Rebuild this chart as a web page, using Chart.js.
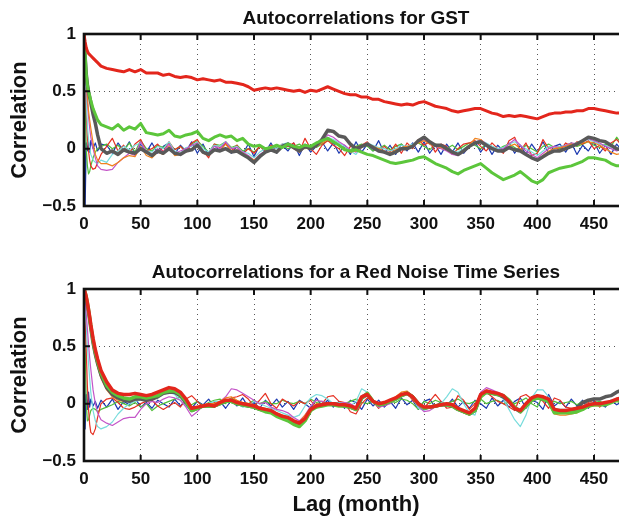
<!DOCTYPE html>
<html>
<head>
<meta charset="utf-8">
<script src="https://cdn.jsdelivr.net/npm/chart.js@4.4.1/dist/chart.umd.min.js"></script>
<style>
html,body{margin:0;padding:0;background:#fff;overflow:hidden;width:619px;height:518px;}
canvas{position:absolute;left:0;}
#c1{top:0;}
#c2{top:250px;}
</style>
</head>
<body>
<canvas id="c1" width="640" height="250"></canvas>
<canvas id="c2" width="640" height="268"></canvas>
<script>
// ---------- DATA ----------
const TITLE_TOP = 'Autocorrelations for GST';
const TITLE_BOTTOM = 'Autocorrelations for a Red Noise Time Series';
const Y_LABEL = 'Correlation';
const X_LABEL = 'Lag (month)';
const Y_TICKS = [-0.5, 0, 0.5, 1];
const X_TICKS = [0, 50, 100, 150, 200, 250, 300, 350, 400, 450];

const LAGS = [0,1,2,3,4,5,6,8,10,12,15,
 20,25,30,35,40,45,50,55,60,65,
 70,75,80,85,90,95,100,105,110,115,
 120,125,130,135,140,145,150,155,160,165,
 170,175,180,185,190,195,200,205,210,215,
 220,225,230,235,240,245,250,255,260,265,
 270,275,280,285,290,295,300,305,310,315,
 320,325,330,335,340,345,350,355,360,365,
 370,375,380,385,390,395,400,405,410,415,
 420,425,430,435,440,445,450,455,460,465,
 470,475];

// ----- GST panel -----
const gstRed = [1.0,0.93,0.88,0.85,0.83,0.82,0.81,0.79,0.77,0.75,0.72,
 0.70,0.69,0.68,0.67,0.69,0.67,0.69,0.66,0.66,0.66,
 0.64,0.65,0.63,0.62,0.63,0.62,0.60,0.61,0.60,0.59,
 0.60,0.58,0.58,0.57,0.56,0.54,0.51,0.52,0.53,0.52,
 0.53,0.52,0.51,0.50,0.51,0.49,0.51,0.50,0.52,0.54,
 0.52,0.50,0.48,0.47,0.47,0.45,0.45,0.43,0.43,0.41,
 0.40,0.39,0.38,0.39,0.38,0.40,0.41,0.39,0.37,0.36,
 0.35,0.33,0.32,0.33,0.34,0.35,0.35,0.33,0.31,0.30,
 0.28,0.29,0.28,0.29,0.28,0.27,0.26,0.28,0.30,0.31,
 0.31,0.32,0.32,0.33,0.33,0.35,0.35,0.34,0.33,0.32,
 0.31,0.31];
const gstGreen = [1.0,0.82,0.65,0.55,0.50,0.46,0.42,0.35,0.30,0.25,0.21,
 0.19,0.17,0.21,0.16,0.19,0.17,0.22,0.14,0.13,0.12,
 0.13,0.16,0.11,0.10,0.12,0.13,0.15,0.09,0.07,0.10,
 0.12,0.10,0.11,0.07,0.09,0.04,0.02,0.03,0.00,0.01,
 0.03,0.01,0.04,0.02,0.01,0.03,0.02,0.05,0.07,0.09,
 0.06,0.03,-0.01,-0.02,-0.01,-0.03,-0.05,-0.06,-0.08,-0.10,
 -0.12,-0.13,-0.12,-0.11,-0.10,-0.08,-0.07,-0.10,-0.13,-0.15,
 -0.17,-0.20,-0.22,-0.19,-0.17,-0.15,-0.13,-0.17,-0.21,-0.24,
 -0.27,-0.25,-0.23,-0.20,-0.24,-0.28,-0.30,-0.27,-0.21,-0.19,
 -0.17,-0.16,-0.15,-0.13,-0.11,-0.08,-0.08,-0.09,-0.10,-0.13,
 -0.15,-0.15];
const gstGray = [1.0,0.80,0.65,0.56,0.50,0.45,0.40,0.30,0.22,0.12,0.00,
 -0.04,-0.02,-0.05,-0.01,-0.03,-0.04,0.00,-0.03,-0.06,-0.02,
 -0.04,0.00,-0.04,-0.05,-0.02,-0.01,0.03,-0.03,-0.05,-0.01,
 -0.02,0.00,-0.03,-0.02,-0.05,-0.08,-0.12,-0.07,-0.03,-0.01,
 -0.03,0.02,0.04,0.01,-0.02,0.02,0.00,0.03,0.08,0.16,
 0.15,0.11,0.10,0.04,0.00,0.02,0.04,0.01,-0.02,-0.03,
 -0.05,-0.03,0.00,0.00,0.02,0.07,0.10,0.06,0.03,0.03,
 0.00,-0.03,-0.05,-0.02,0.02,0.05,0.06,0.03,0.00,-0.02,
 -0.02,0.01,-0.01,-0.02,-0.05,-0.08,-0.10,-0.07,-0.04,-0.02,
 -0.02,0.00,0.02,0.04,0.07,0.10,0.09,0.07,0.06,0.03,
 0.00,-0.01];
const gstBlue = [1.0,-0.5,0.05,-0.02,0.06,-0.03,0.07,0.00,0.05,-0.02,0.04,
 0.03,-0.04,0.05,-0.02,0.06,-0.05,0.04,-0.03,0.05,-0.04,
 0.02,0.05,-0.05,0.03,-0.02,0.06,-0.04,0.04,-0.06,0.03,
 -0.02,0.05,-0.04,0.02,-0.05,0.04,-0.07,0.03,-0.03,0.05,
 -0.04,0.03,-0.02,0.05,-0.06,0.04,-0.03,0.02,0.06,-0.02,
 0.05,-0.04,0.03,-0.05,0.06,-0.03,0.04,-0.02,0.07,-0.04,
 0.03,-0.05,0.04,-0.02,0.05,-0.03,0.06,-0.04,0.03,-0.05,
 0.04,-0.03,0.05,-0.04,0.02,0.06,-0.03,0.04,-0.05,0.03,
 -0.02,0.05,-0.04,0.03,-0.05,0.04,-0.03,0.06,-0.04,0.02,
 0.04,-0.03,0.05,-0.05,0.03,-0.02,0.06,-0.04,0.03,-0.05,
 0.04,-0.02];
const gstCyan = [1.0,0.70,0.40,0.20,0.08,0.00,-0.05,-0.10,-0.12,-0.13,-0.10,
 -0.12,-0.05,-0.02,0.02,-0.01,0.03,0.05,-0.02,-0.03,0.02,
 0.00,0.06,-0.02,-0.04,0.01,0.02,0.06,0.00,-0.03,0.03,
 0.02,0.06,0.00,0.02,-0.03,-0.04,-0.08,-0.03,0.00,0.02,
 0.00,0.04,0.05,0.02,-0.01,0.03,0.00,0.02,0.06,0.10,
 0.08,0.05,0.02,-0.02,-0.05,0.02,0.05,0.03,0.01,0.00,
 -0.02,0.00,0.03,0.02,0.04,0.06,0.08,0.05,0.03,0.02,
 0.01,-0.02,-0.03,0.00,0.03,0.06,0.07,0.05,0.02,0.00,
 0.01,0.04,0.06,0.03,0.00,-0.03,-0.06,-0.02,0.02,0.01,
 0.02,0.03,0.04,0.05,0.07,0.08,0.06,0.04,0.03,0.01,
 0.00,0.02];
const gstMagenta = [1.0,0.75,0.55,0.40,0.28,0.18,0.10,0.00,-0.08,-0.15,-0.18,
 -0.19,-0.18,-0.12,-0.08,-0.04,-0.06,0.06,-0.03,-0.05,0.00,
 -0.03,0.04,-0.04,-0.02,0.00,0.03,0.05,-0.03,-0.04,0.02,
 0.00,0.06,0.00,0.01,-0.03,-0.06,-0.10,-0.05,-0.02,0.00,
 -0.02,0.03,0.04,0.01,-0.03,0.02,0.00,0.03,0.06,0.12,
 0.10,0.06,0.03,-0.01,-0.03,0.01,0.04,0.02,-0.01,-0.02,
 -0.04,-0.02,0.00,0.01,0.03,0.06,0.08,0.04,0.02,0.00,
 -0.02,-0.05,-0.06,-0.03,0.02,0.05,0.08,0.04,0.01,-0.01,
 0.00,0.04,0.08,0.03,-0.02,-0.05,-0.08,-0.04,0.00,0.02,
 0.01,0.03,0.05,0.04,0.06,0.09,0.07,0.05,0.02,0.00,
 -0.02,0.00];
const gstOrange = [1.0,0.80,0.60,0.45,0.33,0.25,0.18,0.05,-0.05,-0.10,-0.13,
 -0.13,-0.15,-0.12,-0.08,-0.06,-0.07,0.02,-0.06,-0.08,-0.03,
 -0.05,0.02,-0.06,-0.05,-0.02,0.00,0.03,-0.04,-0.06,-0.01,
 -0.02,0.04,-0.02,-0.01,-0.04,-0.07,-0.10,-0.06,-0.03,0.00,
 -0.02,0.02,0.03,0.00,-0.03,0.01,-0.01,0.02,0.05,0.08,
 0.06,0.03,0.00,-0.03,-0.02,0.01,0.04,0.02,0.00,-0.02,
 -0.04,-0.01,0.01,0.02,0.03,0.05,0.07,0.04,0.02,0.01,
 -0.01,-0.04,-0.05,-0.01,0.03,0.09,0.08,0.03,0.00,-0.02,
 -0.02,0.02,0.04,0.00,-0.05,-0.08,-0.10,-0.06,-0.02,0.00,
 0.01,0.02,0.04,0.03,0.05,0.06,0.05,0.03,0.00,-0.03,
 -0.05,-0.04];
const gstRedThin = [1.0,0.60,0.30,0.10,-0.02,-0.10,-0.15,-0.18,-0.17,-0.12,-0.05,
 0.02,0.09,-0.02,0.03,-0.04,0.04,0.08,-0.02,0.00,0.04,
 -0.03,0.06,-0.01,0.02,-0.03,0.05,0.08,-0.02,-0.08,0.04,
 0.01,0.05,-0.02,0.03,-0.05,0.00,-0.04,0.02,-0.02,0.03,
 0.00,0.04,0.02,0.05,-0.03,0.09,0.00,-0.05,0.03,0.07,
 0.03,0.00,-0.06,0.02,0.01,0.03,0.06,0.00,-0.02,0.02,
 -0.03,0.04,-0.04,0.05,0.00,0.08,0.03,0.06,-0.03,0.04,
 0.02,-0.05,0.00,0.04,0.05,0.07,0.02,-0.02,0.05,0.00,
 -0.04,0.07,0.10,-0.02,0.05,-0.06,-0.04,0.08,0.00,0.02,
 -0.02,0.05,0.02,0.06,0.04,0.07,0.00,0.03,-0.02,0.05,
 0.08,0.02];
const gstGreenThin = [1.0,0.40,0.00,-0.15,-0.22,-0.20,-0.15,-0.08,-0.03,0.00,0.02,
 0.04,0.00,0.03,-0.02,0.05,-0.03,0.07,0.00,-0.02,0.03,
 0.01,0.05,-0.01,0.02,-0.02,0.04,0.07,0.02,-0.03,0.04,
 0.03,0.06,0.01,0.03,-0.02,0.00,-0.03,0.02,0.00,0.02,
 0.01,0.03,0.00,0.02,0.04,0.00,0.03,0.01,0.04,0.07,
 0.05,0.03,0.01,-0.01,0.02,0.04,0.02,-0.02,0.00,0.03,
 -0.01,0.02,0.04,0.00,0.03,0.05,0.02,-0.01,0.04,0.02,
 0.00,0.03,-0.01,0.02,0.05,0.03,0.00,0.04,0.02,-0.01,
 0.02,0.04,0.01,-0.02,0.03,0.00,-0.03,0.02,0.04,0.01,
 0.00,0.03,0.05,0.02,0.04,0.06,0.03,0.01,0.04,0.02,
 0.10,0.03];

// ----- Red noise panel -----
const rnRed = [1.0,0.97,0.93,0.88,0.82,0.76,0.69,0.57,0.47,0.39,0.29,
 0.19,0.12,0.09,0.08,0.08,0.09,0.08,0.07,0.08,0.10,
 0.12,0.14,0.13,0.10,0.04,-0.04,-0.03,-0.02,-0.01,-0.02,
 0.01,0.03,0.03,0.01,0.00,-0.01,-0.02,-0.04,-0.05,-0.06,
 -0.09,-0.11,-0.12,-0.15,-0.17,-0.13,-0.05,-0.02,-0.01,0.00,
 0.00,-0.01,-0.01,-0.02,-0.04,0.06,0.08,0.02,0.00,0.01,
 0.03,0.05,0.08,0.09,0.06,0.00,-0.03,-0.03,-0.02,-0.01,
 0.00,-0.01,-0.04,-0.06,-0.08,-0.04,0.08,0.11,0.10,0.09,
 0.07,0.02,-0.04,-0.06,0.00,0.05,0.07,0.06,0.04,-0.05,
 -0.06,-0.06,-0.05,-0.04,-0.03,-0.01,0.00,0.00,0.01,0.02,
 0.04,0.05];
const rnGreen = [1.0,0.97,0.93,0.88,0.82,0.75,0.68,0.55,0.45,0.37,0.27,
 0.16,0.10,0.07,0.05,0.04,0.06,0.06,0.05,0.06,0.07,
 0.10,0.11,0.11,0.08,0.02,-0.06,-0.04,-0.02,-0.02,-0.02,
 0.00,0.02,0.02,0.00,-0.01,-0.02,-0.03,-0.05,-0.07,-0.08,
 -0.11,-0.13,-0.15,-0.18,-0.20,-0.15,-0.06,-0.03,-0.02,-0.01,
 -0.01,-0.02,-0.02,-0.03,-0.05,0.05,0.09,0.02,-0.01,0.00,
 0.02,0.04,0.07,0.09,0.06,0.00,-0.04,-0.03,-0.02,-0.01,
 -0.01,-0.02,-0.05,-0.07,-0.09,-0.06,0.06,0.10,0.09,0.08,
 0.07,0.03,-0.03,-0.07,-0.02,0.03,0.05,0.04,0.02,-0.08,
 -0.08,-0.08,-0.08,-0.07,-0.05,-0.02,-0.01,-0.01,-0.01,0.01,
 0.03,0.04];
const rnGray = [1.0,0.96,0.92,0.86,0.80,0.73,0.66,0.53,0.43,0.35,0.25,
 0.14,0.08,0.05,0.03,0.02,0.04,0.04,0.03,0.04,0.06,
 0.09,0.10,0.10,0.07,0.01,-0.06,-0.04,-0.02,-0.02,-0.02,
 0.00,0.02,0.02,0.00,-0.01,-0.02,-0.03,-0.05,-0.06,-0.07,
 -0.10,-0.12,-0.14,-0.16,-0.18,-0.14,-0.05,-0.02,-0.01,0.00,
 0.00,-0.01,-0.02,-0.03,-0.05,0.05,0.08,0.02,-0.01,0.00,
 0.02,0.04,0.07,0.09,0.06,0.00,-0.04,-0.03,-0.02,-0.01,
 -0.01,-0.02,-0.05,-0.07,-0.09,-0.06,0.07,0.10,0.09,0.08,
 0.06,0.02,-0.04,-0.07,-0.02,0.03,0.05,0.04,0.02,-0.07,
 -0.07,-0.07,-0.06,-0.04,0.01,0.03,0.04,0.04,0.06,0.07,
 0.10,0.12];
const rnOrange = [1.0,0.96,0.91,0.85,0.78,0.71,0.64,0.50,0.40,0.32,0.22,
 0.12,0.06,0.03,0.02,0.02,0.03,0.04,0.05,0.06,0.08,
 0.10,0.12,0.11,0.08,0.02,-0.04,-0.03,-0.01,0.00,0.00,
 0.02,0.05,0.06,0.03,0.01,0.00,-0.01,-0.03,-0.04,-0.06,
 -0.08,-0.10,-0.13,-0.15,-0.16,-0.10,-0.04,0.00,0.00,0.01,
 0.01,0.00,0.00,-0.02,-0.04,0.06,0.09,0.03,0.00,0.01,
 0.03,0.06,0.10,0.11,0.07,0.01,-0.03,-0.04,-0.03,-0.02,
 -0.01,-0.02,-0.05,-0.08,-0.10,-0.05,0.08,0.12,0.10,0.08,
 0.06,0.02,-0.04,-0.06,0.01,0.05,0.06,0.05,0.03,-0.09,
 -0.10,-0.10,-0.09,-0.08,-0.05,-0.03,-0.02,-0.02,0.00,0.01,
 0.02,0.03];
const rnMagenta = [1.0,0.90,0.78,0.65,0.52,0.40,0.30,0.12,0.00,-0.08,-0.14,
 -0.17,-0.19,-0.16,-0.13,-0.12,-0.12,-0.05,0.00,0.02,0.01,
 0.04,0.06,0.05,0.03,-0.03,-0.11,-0.07,-0.02,-0.01,0.00,
 0.02,0.06,0.13,0.12,0.09,0.06,0.03,0.00,0.01,-0.03,
 -0.05,-0.06,-0.08,-0.12,-0.15,-0.10,-0.02,0.03,0.02,0.00,
 -0.01,0.00,0.01,0.00,-0.03,0.07,0.10,0.03,-0.03,-0.02,
 0.00,0.04,0.08,0.10,0.05,-0.02,-0.07,-0.06,-0.03,-0.02,
 -0.01,-0.02,-0.04,-0.06,-0.08,-0.03,0.10,0.14,0.12,0.10,
 0.08,0.03,-0.02,-0.05,0.01,0.05,0.07,0.05,0.02,-0.08,
 -0.08,-0.08,-0.07,-0.06,-0.04,-0.02,0.00,0.00,0.01,0.02,
 0.03,0.04];
const rnCyan = [1.0,0.85,0.68,0.50,0.35,0.22,0.10,-0.06,-0.15,-0.20,-0.22,
 -0.20,-0.16,-0.09,-0.04,0.00,0.02,0.03,0.03,0.04,0.05,
 0.08,0.10,0.08,0.03,-0.02,-0.05,-0.04,-0.02,0.00,0.02,
 0.02,0.03,0.04,0.00,-0.03,-0.02,0.02,0.00,-0.02,-0.04,
 -0.06,-0.08,-0.10,-0.12,-0.10,-0.02,0.05,0.08,0.07,0.04,
 0.00,0.01,0.00,-0.02,0.02,0.13,0.10,0.02,-0.03,-0.01,
 0.01,0.03,0.06,0.09,0.05,-0.04,-0.06,-0.03,-0.02,0.00,
 0.06,0.13,0.10,0.00,-0.08,-0.10,0.07,0.12,0.10,0.08,
 0.04,-0.05,-0.14,-0.20,-0.10,0.05,0.12,0.12,0.06,-0.04,
 -0.05,-0.05,-0.05,-0.04,-0.02,0.00,0.01,0.00,0.01,0.03,
 0.02,0.03];
const rnRedThin = [1.0,0.75,0.45,0.15,-0.05,-0.18,-0.25,-0.27,-0.22,-0.12,0.00,
 0.04,0.05,0.01,-0.04,-0.05,-0.03,0.00,0.02,0.03,-0.02,
 -0.05,-0.02,0.01,-0.03,0.04,0.07,0.02,-0.03,-0.01,0.01,
 0.00,0.02,0.05,0.06,0.08,0.04,-0.02,0.03,0.09,0.00,
 -0.04,0.04,0.01,-0.02,0.02,0.00,0.03,-0.04,0.00,0.06,
 0.07,0.02,0.01,-0.07,-0.09,0.00,0.05,0.02,-0.04,0.01,
 0.02,0.04,0.08,0.09,0.03,-0.02,-0.04,0.02,0.08,0.02,
 -0.04,-0.03,0.07,0.03,-0.05,0.00,0.05,0.10,0.06,0.02,
 0.00,-0.03,-0.06,0.06,0.08,0.04,0.06,0.02,-0.04,0.05,
 0.03,-0.03,-0.04,-0.04,-0.02,0.01,0.03,-0.03,0.01,0.02,
 0.03,0.05];
const rnGreenThin = [1.0,0.50,0.00,-0.15,-0.14,-0.10,-0.06,-0.04,-0.05,-0.07,-0.05,
 -0.03,-0.01,0.02,0.00,-0.02,0.01,-0.03,0.00,-0.06,-0.02,
 0.00,0.02,0.04,0.06,0.01,-0.01,0.02,-0.02,0.01,0.03,
 0.04,0.00,0.05,0.02,0.01,0.00,0.03,0.00,0.02,0.00,
 0.00,0.03,0.01,0.00,0.02,0.00,0.04,0.01,0.02,0.00,
 0.00,0.01,0.00,0.02,0.04,0.01,0.00,0.03,-0.02,0.00,
 0.02,0.01,0.04,0.03,0.00,-0.05,0.02,0.00,0.03,0.01,
 0.00,0.02,0.04,0.01,0.00,0.02,0.04,0.00,0.02,0.03,
 0.00,0.01,0.00,0.02,0.05,0.00,-0.03,0.07,0.00,0.02,
 0.00,0.01,0.02,-0.01,0.02,0.00,0.01,0.02,0.00,0.01,
 0.02,0.00];
const rnBlue = [1.0,-0.22,0.08,-0.05,0.10,-0.03,0.04,-0.02,0.02,-0.04,0.03,
 -0.03,0.04,-0.05,0.02,-0.01,0.05,-0.03,0.01,-0.04,0.03,
 0.00,-0.03,0.04,-0.02,0.03,-0.04,0.02,-0.01,0.04,-0.03,
 0.02,-0.04,0.03,-0.02,0.05,-0.03,0.01,-0.04,0.03,-0.02,
 0.04,-0.03,0.02,-0.05,0.03,0.00,-0.04,0.05,-0.02,0.03,
 -0.03,0.02,-0.04,0.03,0.01,-0.05,0.04,-0.02,0.03,-0.03,
 0.02,-0.04,0.05,-0.01,0.03,-0.05,0.02,0.04,-0.03,0.02,
 -0.02,0.04,-0.03,0.02,-0.04,0.03,0.00,-0.04,0.05,-0.02,
 0.03,-0.03,0.02,0.05,-0.04,0.03,0.01,-0.05,0.08,-0.02,
 0.02,-0.03,0.04,-0.02,0.03,-0.04,0.02,0.00,-0.03,0.03,
 -0.01,0.02];

// ---------- STYLE ----------
const C = {
  red: '#e3261c', green: '#5cc63b', gray: '#595959', blue: '#1c39b0',
  cyan: '#78dcdc', magenta: '#c455c8', orange: '#f0821e', redThin: '#e53022', greenThin: '#52bf3a'
};
const FONT = '"Liberation Sans", Arial, Helvetica, sans-serif';

function series(vals, color, width) {
  return {
    data: LAGS.map((l, i) => ({x: l, y: vals[i]})),
    borderColor: color, borderWidth: width, pointRadius: 0,
    tension: 0, fill: false, borderJoinStyle: 'round', borderCapStyle: 'round'
  };
}

const boxPlugin = {
  id: 'box',
  afterDatasetsDraw(chart) {
    const {ctx, chartArea: a, scales: {x, y}} = chart;
    ctx.save();
    ctx.strokeStyle = '#111';
    ctx.lineWidth = 2;
    ctx.beginPath();
    x.ticks.forEach(t => {
      const px = x.getPixelForValue(t.value);
      ctx.moveTo(px, a.bottom); ctx.lineTo(px, a.bottom - 6);
      ctx.moveTo(px, a.top); ctx.lineTo(px, a.top + 6);
    });
    y.ticks.forEach(t => {
      const py = y.getPixelForValue(t.value);
      ctx.moveTo(a.left, py); ctx.lineTo(a.left + 6, py);
      ctx.moveTo(a.right, py); ctx.lineTo(a.right - 6, py);
    });
    ctx.stroke();
    ctx.lineWidth = 2.6;
    ctx.strokeRect(a.left, a.top, a.right - a.left, a.bottom - a.top);
    ctx.restore();
  }
};

function makeChart(id, title, datasets, titlePad, xHeight, showXTitle) {
  return new Chart(document.getElementById(id), {
    type: 'line',
    data: {datasets},
    plugins: [boxPlugin],
    options: {
      responsive: false, animation: false, devicePixelRatio: 1,
      layout: {padding: {left: 0, right: 12, top: 0, bottom: 0}},
      plugins: {
        legend: {display: false}, tooltip: {enabled: false},
        title: {display: true, text: title, color: '#111', fullSize: false,
          font: {family: FONT, size: 19, weight: 'bold'}, padding: titlePad}
      },
      scales: {
        x: {
          type: 'linear', min: 0, max: 480,
          afterFit(s) { s.height = xHeight; },
          afterBuildTicks(s) { s.ticks = X_TICKS.map(v => ({value: v})); },
          ticks: {color: '#111', padding: 8, maxRotation: 0, autoSkip: false,
            font: {family: FONT, size: 17, weight: 'bold'}, callback: v => String(v)},
          grid: {color: '#555', lineWidth: 1, drawTicks: false},
          border: {display: false, dash: [1, 4]},
          title: {display: showXTitle, text: X_LABEL, color: '#111',
            font: {family: FONT, size: 22, weight: 'bold'}, padding: {top: 0, bottom: 0}}
        },
        y: {
          min: -0.5, max: 1,
          afterFit(s) { s.width = 84; },
          afterBuildTicks(s) { s.ticks = Y_TICKS.map(v => ({value: v})); },
          ticks: {color: '#111', padding: 8,
            font: {family: FONT, size: 17, weight: 'bold'},
            callback: v => v < 0 ? '\u2212' + Math.abs(v) : String(v)},
          grid: {color: '#555', lineWidth: 1, drawTicks: false},
          border: {display: false, dash: [1, 4]},
          title: {display: true, text: Y_LABEL, color: '#111',
            font: {family: FONT, size: 22, weight: 'bold'}, padding: {top: 7, bottom: 0}}
        }
      }
    }
  });
}

// datasets: first drawn on top
makeChart('c1', TITLE_TOP, [
  series(gstRed, C.red, 3),
  series(gstGreen, C.green, 3),
  series(gstGray, C.gray, 3.5),
  series(gstOrange, C.orange, 1.2),
  series(gstMagenta, C.magenta, 1.2),
  series(gstCyan, C.cyan, 1.2),
  series(gstRedThin, C.redThin, 1.2),
  series(gstGreenThin, C.greenThin, 1.2),
  series(gstBlue, C.blue, 1.2)
], {top: 7, bottom: 4.2}, 44, false);

makeChart('c2', TITLE_BOTTOM, [
  series(rnRed, C.red, 3.5),
  series(rnGreen, C.green, 3.5),
  series(rnGray, C.gray, 3.5),
  series(rnOrange, C.orange, 1.2),
  series(rnMagenta, C.magenta, 1.2),
  series(rnCyan, C.cyan, 1.2),
  series(rnRedThin, C.redThin, 1.2),
  series(rnGreenThin, C.greenThin, 1.2),
  series(rnBlue, C.blue, 1.2)
], {top: 11.6, bottom: 4.6}, 57, true);
</script>
</body>
</html>
